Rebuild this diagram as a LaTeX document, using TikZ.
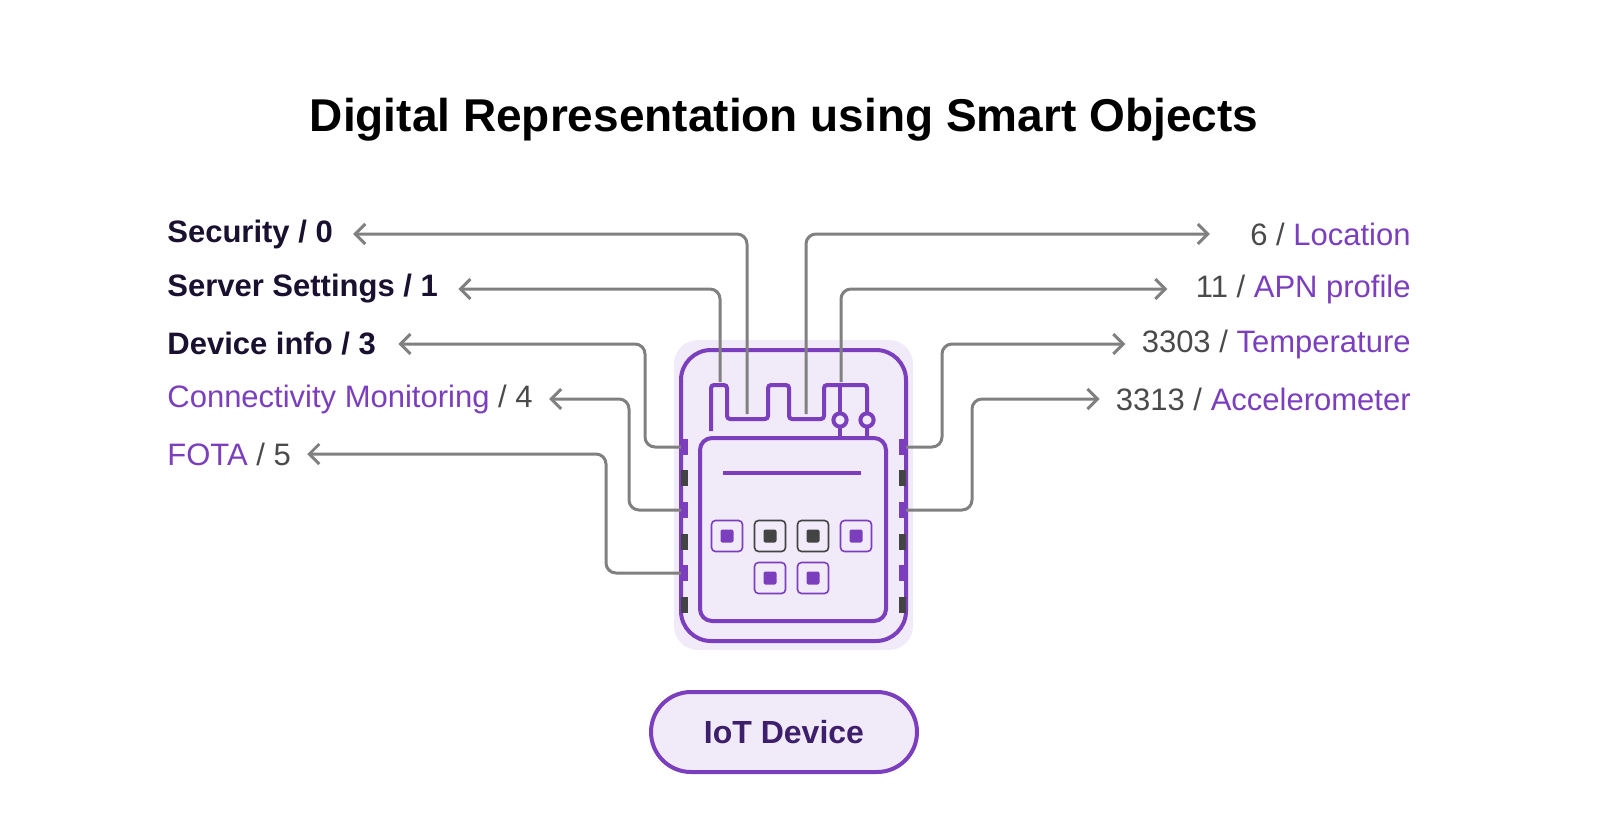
\documentclass[tikz,border=0pt]{standalone}
\usepackage{fontspec}
\setmainfont{Liberation Sans}
\usepackage{xcolor}
\usetikzlibrary{positioning, arrows.meta}
\definecolor{purp}{HTML}{7B3FBE}
\definecolor{lilac}{HTML}{F1EAF8}
\definecolor{wire}{HTML}{808080}
\definecolor{ink}{HTML}{1A1030}
\definecolor{txtgray}{HTML}{4A4A4A}
\definecolor{pillink}{HTML}{3D1F6B}
\definecolor{pad}{HTML}{444444}
\tikzset{
  lbl/.style={font=\fontsize{15.5}{18}\selectfont, text=txtgray, inner xsep=10pt, inner ysep=0pt},
  bold lbl/.style={lbl, font=\fontsize{15.5}{18}\selectfont\bfseries, text=ink},
  conn/.style={wire, line width=1.5pt, rounded corners=5pt, -{Straight Barb[length=5pt,width=10pt]}},
  chip/.style={purp, line width=2pt, rounded corners},
  key/.style={draw=purp, fill=lilac, line width=0.8pt, rounded corners=2pt, minimum size=15.5pt, inner sep=0pt},
}
\begin{document}
\begin{tikzpicture}[x=0.5pt, y=-0.5pt]
\useasboundingbox (0,0) rectangle (1600,819);
% title
\node[font=\fontsize{23}{27}\selectfont\bfseries] (title) at (784,120) {Digital Representation using Smart Objects};
%
% device
\fill[lilac, rounded corners=12pt] (674,340) rectangle (913,650);
\draw[chip, rounded corners=15pt] (681,350) rectangle (906,641);
\draw[chip, rounded corners=6pt] (700,438) rectangle (886,621);
\draw[chip, rounded corners=0pt] (723,473) -- (861,473);
\draw[chip, rounded corners=1.5pt] (711,431) -- (711,385) -- (727,385) -- (727,419) -- (768,419) -- (768,385)
  -- (789,385) -- (789,419) -- (824,419) -- (824,385) -- (867,385) -- (867,438);
\draw[chip] (840,385) -- (840,438);
\foreach \cx in {840,867}
  \draw[purp, line width=2pt, fill=lilac] (\cx,420) circle (3.3pt);
\foreach \py/\pc in {447/purp,478/pad,510/purp,542/pad,573/purp,605/pad} {
  \fill[\pc] (681,\py-8) rectangle (688,\py+8);
  \fill[\pc] (899,\py-8) rectangle (906,\py+8);
}
\foreach \kx/\kc in {727/purp,770/pad,813/pad,856/purp} {
  \node[key, draw=\kc] (k\kx) at (\kx,536) {};
  \fill[\kc, rounded corners=1pt] (\kx-6.5,529.5) rectangle (\kx+6.5,542.5);
}
\foreach \kx in {770,813} {
  \node[key] (m\kx) at (\kx,578) {};
  \fill[purp, rounded corners=1pt] (\kx-6.5,571.5) rectangle (\kx+6.5,584.5);
}
%
% labels left
\node[bold lbl, anchor=west, inner xsep=0pt] (sec) at (167,234) {Security / 0};
\node[bold lbl, anchor=west, inner xsep=0pt] (srv) at (167,289) {Server Settings / 1};
\node[bold lbl, anchor=west, inner xsep=0pt] (dev) at (167,344) {Device info / 3};
\node[lbl, anchor=west, inner xsep=0pt] (con) at (167,399) {\textcolor{purp}{Connectivity Monitoring} / 4};
\node[lbl, anchor=west, inner xsep=0pt] (fota) at (167,454) {\textcolor{purp}{FOTA} / 5};
% labels right
\node[lbl, anchor=east, inner xsep=0pt] (loc) at (1411,234) {6 / \textcolor{purp}{Location}};
\node[lbl, anchor=east, inner xsep=0pt] (apn) at (1411,289) {11 / \textcolor{purp}{APN profile}};
\node[lbl, anchor=east, inner xsep=0pt] (temp) at (1411,344) {3303 / \textcolor{purp}{Temperature}};
\node[lbl, anchor=east, inner xsep=0pt] (acc) at (1411,399) {3313 / \textcolor{purp}{Accelerometer}};
%
% wire ends on the device
\coordinate (pSec) at (747,414);
\coordinate (pSrv) at (720,382);
\coordinate (pDev) at (681,447);
\coordinate (pCon) at (681,510);
\coordinate (pFota) at (681,573);
\coordinate (pLoc) at (806,414);
\coordinate (pApn) at (841,382);
\coordinate (pTemp) at (906,447);
\coordinate (pAcc) at (906,510);
%
\draw[conn] (pSec) |- ([xshift=10pt]sec.east);
\draw[conn] (pSrv) |- ([xshift=10pt]srv.east);
\draw[conn] (pDev) -- (645,447) |- ([xshift=11pt]dev.east);
\draw[conn] (pCon) -- (629,510) |- ([xshift=8pt]con.east);
\draw[conn] (pFota) -- (606,573) |- ([xshift=8pt]fota.east);
\draw[conn] (pLoc) |- ([xshift=-20pt]loc.west);
\draw[conn] (pApn) |- ([xshift=-14pt]apn.west);
\draw[conn] (pTemp) -- (942,447) |- ([xshift=-8pt]temp.west);
\draw[conn] (pAcc) -- (972,510) |- ([xshift=-8pt]acc.west);
%
% caption
\node[draw=purp, fill=lilac, line width=2pt, rounded corners=20pt, minimum width=133pt, minimum height=40pt,
  font=\fontsize{16}{19}\selectfont\bfseries, text=pillink] (iot) at (784,732) {IoT Device};
\end{tikzpicture}
\end{document}
